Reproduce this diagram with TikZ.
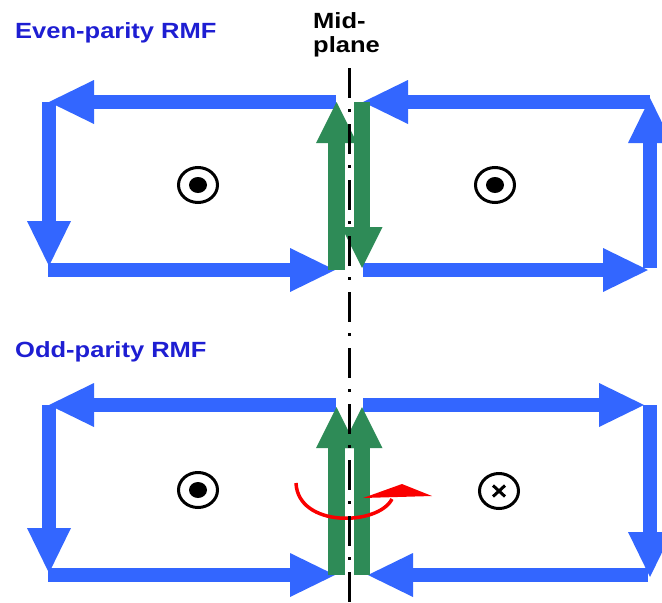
\documentclass[tikz,border=0pt]{standalone}
\usepackage{fontspec}
\setmainfont{Liberation Sans}
\usetikzlibrary{arrows.meta}
\definecolor{rmfblue}{RGB}{51,102,255}
\definecolor{txtblue}{RGB}{30,30,210}
\definecolor{fieldgreen}{RGB}{46,139,87}
\definecolor{rotred}{RGB}{250,0,0}
\begin{document}
\begin{tikzpicture}[x=1pt,y=-1pt,
  bluearr/.style={draw=rmfblue, line width=14pt, -{Triangle[length=45pt,width=44pt,line width=0pt]}},
  greenarr/.style={draw=fieldgreen, line width=16.5pt, -{Triangle[length=41pt,width=41pt,line width=0pt]}},
  lbl/.style={font=\fontsize{22}{24}\selectfont\bfseries, text=txtblue, inner sep=0pt, anchor=base west},
  midlbl/.style={font=\fontsize{22}{24}\selectfont\bfseries, text=black, inner sep=0pt, anchor=base west},
  ring/.style={draw=black, line width=3pt},
  midline/.style={draw=black, line width=3pt, dash pattern=on 30pt off 11pt on 3pt off 12pt}
]
\useasboundingbox (0,0) rectangle (662,603);

% ---------- coordinates: even parity (top) ----------
\coordinate (eTLs) at (336,102);  \coordinate (eTL) at (49,102);
\coordinate (eLb) at (49,266);
\coordinate (eBLs) at (48,270);   \coordinate (eBLe) at (335,270);
\coordinate (eTRs) at (650,102);  \coordinate (eTRe) at (363,102);
\coordinate (eRs) at (650,268);   \coordinate (eRe) at (650,98);
\coordinate (eBRs) at (363,270);  \coordinate (eBRe) at (648,270);
\coordinate (eGUs) at (336.5,270); \coordinate (eGUe) at (336.5,102);
\coordinate (eGDs) at (362,102);  \coordinate (eGDe) at (362,268);

% ---------- coordinates: odd parity (bottom) ----------
\coordinate (oTLs) at (336,405);  \coordinate (oTL) at (49,405);
\coordinate (oLb) at (49,573);
\coordinate (oBLs) at (48,575);   \coordinate (oBLe) at (335,575);
\coordinate (oTRs) at (363,405);  \coordinate (oTRe) at (644,405);
\coordinate (oRs) at (650,405);   \coordinate (oRe) at (650,577);
\coordinate (oBRs) at (648,575);  \coordinate (oBRe) at (368,575);
\coordinate (oGLs) at (336.5,575); \coordinate (oGLe) at (336.5,407);
\coordinate (oGRs) at (362,575);  \coordinate (oGRe) at (362,407);

% ---------- blue current loops ----------
\draw[bluearr] (eTLs) -- (eTL);
\draw[bluearr] (eTL) -- (eLb);
\draw[bluearr] (eBLs) -- (eBLe);
\draw[bluearr] (eTRs) -- (eTRe);
\draw[bluearr] (eRs) -- (eRe);
\draw[bluearr] (eBRs) -- (eBRe);

\draw[bluearr] (oTLs) -- (oTL);
\draw[bluearr] (oTL) -- (oLb);
\draw[bluearr] (oBLs) -- (oBLe);
\draw[bluearr] (oTRs) -- (oTRe);
\draw[bluearr] (oRs) -- (oRe);
\draw[bluearr] (oBRs) -- (oBRe);

% ---------- green arrows ----------
\draw[greenarr] (eGUs) -- (eGUe);
\draw[greenarr] (eGDs) -- (eGDe);
\draw[greenarr] (oGLs) -- (oGLe);
\draw[greenarr] (oGRs) -- (oGRe);

% ---------- red rotation arrow ----------
\coordinate (rA) at (296,483);
\coordinate (rB) at (392,499);
\draw[rotred, line width=3.5pt] (rA) .. controls (298,528) and (378,526) .. (rB);
\fill[rotred] (363,498) -- (402,484) -- (432,496) -- cycle;

% ---------- field symbols ----------
\draw[ring] (198,185) ellipse [x radius=19.5pt, y radius=17.5pt];
\fill (198,185) ellipse [x radius=9pt, y radius=8pt];
\draw[ring] (495,185) ellipse [x radius=19.5pt, y radius=17.5pt];
\fill (495,185) ellipse [x radius=9pt, y radius=8pt];
\draw[ring] (198,490) ellipse [x radius=19.5pt, y radius=17.5pt];
\fill (198,490) ellipse [x radius=9pt, y radius=8pt];
\draw[ring] (499,491) ellipse [x radius=19.5pt, y radius=17.5pt];
\draw[line width=3pt] (493,485.5) -- (505,496.5) (493,496.5) -- (505,485.5);

% ---------- mid-plane ----------
\coordinate (mTop) at (349,68);
\coordinate (mBot) at (349,603);
\draw[midline] (mTop) -- (mBot);

% ---------- labels ----------
\node[lbl] (even) at (15,38) {\scalebox{1.16}[1]{Even-parity RMF}};
\node[lbl] (odd) at (15,357) {\scalebox{1.16}[1]{Odd-parity RMF}};
\node[midlbl] (mid) at (313,28) {\scalebox{1.16}[1]{Mid-}};
\node[midlbl] (plane) at (313,52) {\scalebox{1.16}[1]{plane}};
\end{tikzpicture}
\end{document}
